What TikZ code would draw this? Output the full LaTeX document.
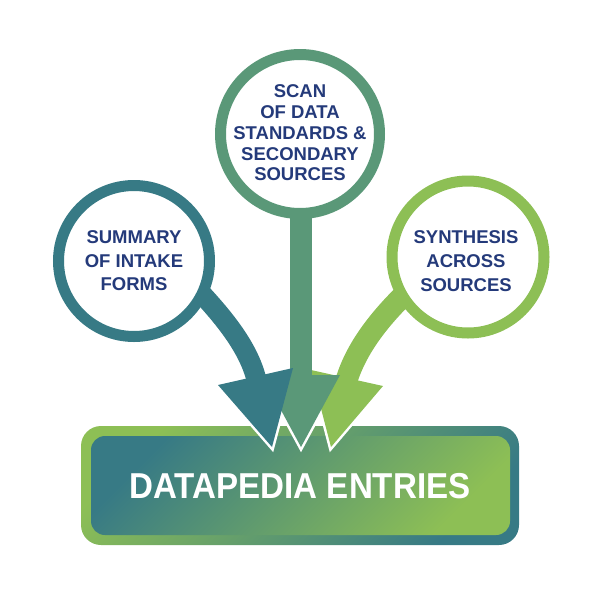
\documentclass[tikz,border=0pt]{standalone}
\usepackage{fontspec}
\setmainfont{Liberation Sans}
\newfontfamily\bigfont[FakeStretch=0.92]{Liberation Sans}
\definecolor{cteal}{HTML}{377A85}
\definecolor{cmid}{HTML}{5A9878}
\definecolor{cgreen}{HTML}{8DBF55}
\definecolor{navy}{HTML}{243A7A}
\begin{document}
\begin{tikzpicture}[x=1pt,y=-1pt,
  ring/.style={circle, draw=#1, line width=11pt, fill=white, inner sep=0pt},
  lbl/.style={text=navy, font=\bfseries\fontsize{18.5}{#1}\selectfont, align=center, inner sep=0pt},
  headoutline/.style={draw=white, line width=5pt, line join=miter}]
\useasboundingbox (0,0) rectangle (600,600);

% box
\node[rounded corners=20pt, minimum width=438pt, minimum height=119pt, inner sep=0pt,
      top color=cgreen, bottom color=cteal, shading angle=45] (box) at (300,485.5) {};
\node[rounded corners=14pt, minimum width=419pt, minimum height=99pt, inner sep=0pt,
      top color=cteal, bottom color=cgreen, shading angle=45] (inner) at (300.5,485.5) {};
\node[text=white, font=\bigfont\bfseries\fontsize{36}{40}\selectfont, inner sep=0pt] (title) at (300,486) {DATAPEDIA ENTRIES};

% head coordinates
\coordinate (a1) at (218,385); \coordinate (a2) at (293,368); \coordinate (at) at (272,447);
\coordinate (b1) at (262,375); \coordinate (b2) at (340,375); \coordinate (bt) at (301,447);
\coordinate (g1) at (311,370); \coordinate (g2) at (383,386); \coordinate (gt) at (331,447);

% white outlines of heads over the box
\begin{scope}
  \clip (0,405) rectangle (600,600);
  \path[headoutline] (a1) -- (a2) -- (at) -- cycle;
  \path[headoutline] (b1) -- (b2) -- (bt) -- cycle;
  \path[headoutline] (g1) -- (g2) -- (gt) -- cycle;
\end{scope}

% green arrow
\draw[cgreen, line width=22pt] (408,291) .. controls (380,318) and (356,348) .. (346,382);
\fill[cgreen] (g1) -- (g2) -- (gt) -- cycle;
% middle arrow
\draw[cmid, line width=22pt] (301,205) -- (301,382);
\fill[cmid] (b1) -- (b2) -- (bt) -- cycle;
% teal arrow
\draw[cteal, line width=20pt] (200,292) .. controls (226,320) and (250,350) .. (257,382);
\fill[cteal] (a1) -- (a2) -- (at) -- cycle;

% circles
\node[ring=cteal, minimum size=151pt] (c1) at (134,261) {};
\node[ring=cmid, minimum size=159pt] (c2) at (300,134) {};
\node[ring=cgreen, minimum size=152pt] (c3) at (468,257) {};

\node[lbl=23.5pt] (t1) at (134,261) {SUMMARY\\OF INTAKE\\FORMS};
\node[lbl=20.7pt] (t2) at (300,133) {SCAN\\OF DATA\\STANDARDS \&\\SECONDARY\\SOURCES};
\node[lbl=23.7pt] (t3) at (466,261) {SYNTHESIS\\ACROSS\\SOURCES};
\end{tikzpicture}
\end{document}
